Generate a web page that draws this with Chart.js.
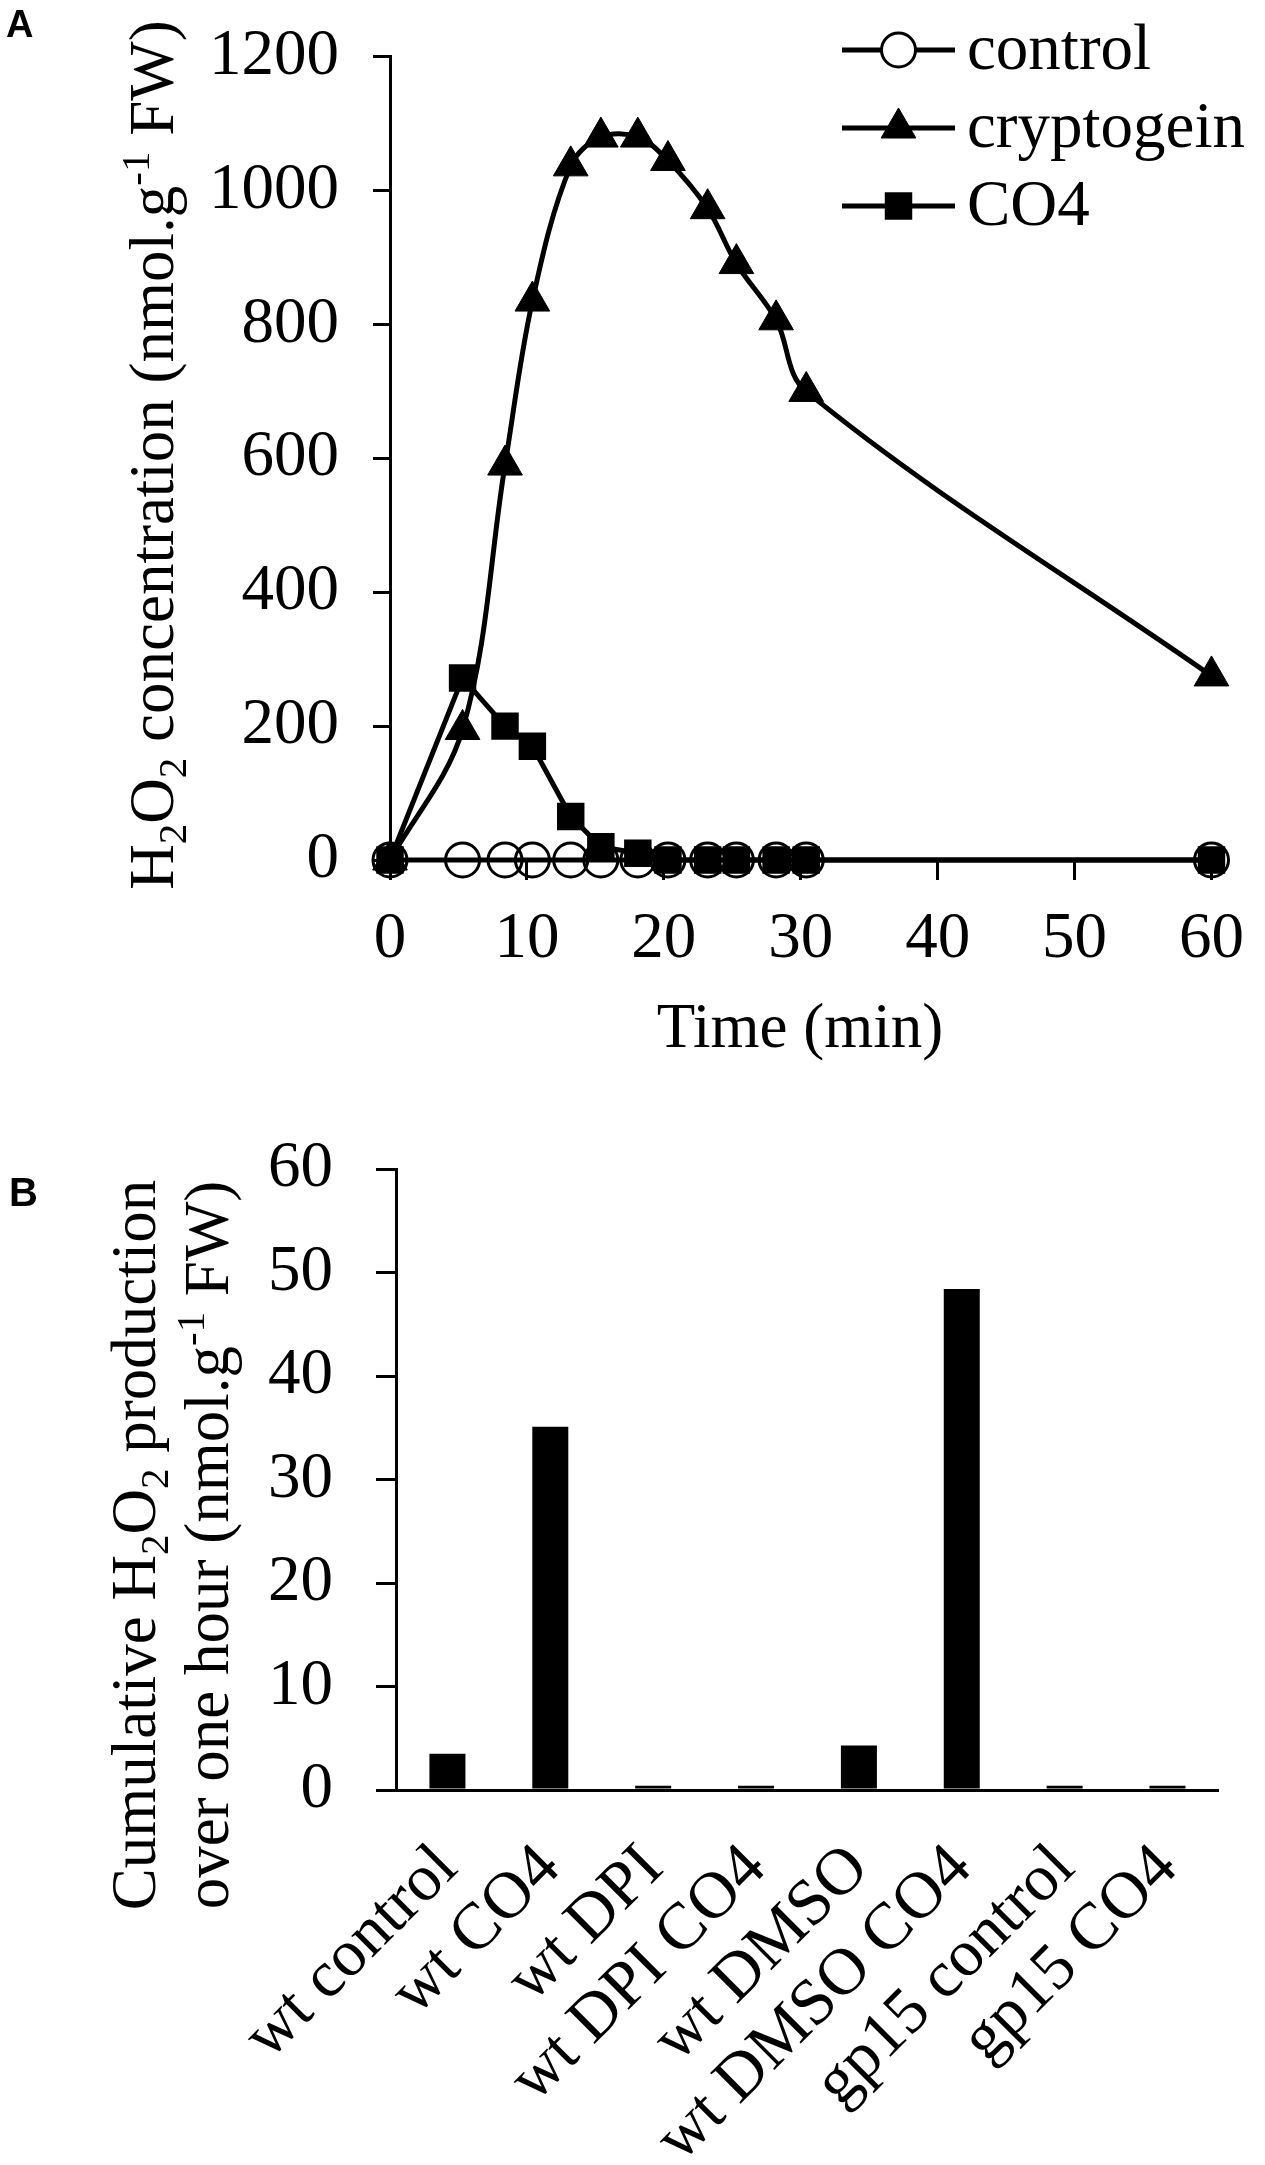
<!DOCTYPE html>
<html>
<head>
<meta charset="utf-8">
<title>H2O2 production</title>
<script src="https://cdn.jsdelivr.net/npm/chart.js@4.4.1/dist/chart.umd.min.js"></script>
<style>
  html, body { margin: 0; padding: 0; background: #fff; }
  #page { position: relative; width: 1265px; height: 2165px; overflow: hidden; }
  .panel { position: absolute; left: 0; width: 1265px; }
  #wrapA { top: 0; height: 1100px; }
  #wrapB { top: 1100px; height: 1065px; }
  .tag { position: absolute; font: bold 38px "Liberation Sans", Arial, sans-serif; line-height: 1; color: #000; }
</style>
</head>
<body>
<div id="page">
  <div class="panel" id="wrapA"><canvas id="chartA" width="1265" height="1100"></canvas></div>
  <div class="panel" id="wrapB"><canvas id="chartB" width="1265" height="1065"></canvas></div>
  <div class="tag" style="left:6px; top:5px;">A</div>
  <div class="tag" style="left:9px; top:1172px; font-size:40px;">B</div>
</div>
<script>
// panel A: time course
const times = [0, 5.3, 8.4, 10.4, 13.2, 15.4, 18.1, 20.3, 23.2, 25.3, 28.2, 30.4, 60];
const controlValues = [0, 0, 0, 0, 0, 0, 0, 0, 0, 0, 0, 0, 0];
const cryptogeinValues = [0, 195, 590, 835, 1037, 1080, 1080, 1045, 973, 891, 807, 700, 275];
const co4Values = [0, 272, 200, 170, 65, 20, 10, 0, 0, 0, 0, 0, 0];
const timeTicks = [0, 10, 20, 30, 40, 50, 60];
const concTicks = [0, 200, 400, 600, 800, 1000, 1200];

// panel B: cumulative production
const categories = ['wt control', 'wt CO4', 'wt DPI', 'wt DPI CO4', 'wt DMSO', 'wt DMSO CO4', 'gp15 control', 'gp15 CO4'];
const cumulativeValues = [3.5, 35.1, 0.4, 0.4, 4.3, 48.4, 0.4, 0.4];
const cumulativeTicks = [0, 10, 20, 30, 40, 50, 60];

const SERIF = '"Liberation Serif", "Times New Roman", serif';
const TITLE_SIZE = 63;
const TICK_SIZE = 65;

const toPoints = values => times.map((t, i) => ({ x: t, y: values[i] }));
const fixedTicks = list => scale => { scale.ticks = list.map(v => ({ value: v })); };
const plainNumber = v => String(v);

// draws text with sub/superscripts, centred on (cx, cy), baseline through cy
function drawRich(ctx, parts, cx, cy, size, angle) {
    ctx.save();
    ctx.translate(cx, cy);
    ctx.rotate(angle);
    ctx.fillStyle = '#000';
    ctx.textAlign = 'left';
    ctx.textBaseline = 'alphabetic';
    const fontFor = p => (p.s ? size * 0.65 : size) + 'px ' + SERIF;
    let total = 0;
    parts.forEach(p => { ctx.font = fontFor(p); total += ctx.measureText(p.t).width; });
    let x = -total / 2;
    parts.forEach(p => {
        ctx.font = fontFor(p);
        const dy = p.s === 1 ? size * 0.2 : (p.s === -1 ? -size * 0.38 : 0);
        ctx.fillText(p.t, x, dy);
        x += ctx.measureText(p.t).width;
    });
    ctx.restore();
}

const titlesPlugin = {
    id: 'richTitles',
    afterDraw(chart, args, opts) {
        (opts.items || []).forEach(it => {
            drawRich(chart.ctx, it.parts, it.x, it.y, TITLE_SIZE, it.vertical ? -Math.PI / 2 : 0);
        });
    }
};

// legend drawn as line + marker, like the original
const lineLegendPlugin = {
    id: 'lineLegend',
    afterDraw(chart, args, opts) {
        if (!opts.rows) return;
        const ctx = chart.ctx;
        opts.rows.forEach((row, k) => {
            const ds = chart.data.datasets[row.dataset];
            const y = opts.y0 + k * opts.step;
            ctx.save();
            ctx.strokeStyle = ds.borderColor;
            ctx.lineWidth = ds.borderWidth;
            ctx.beginPath();
            ctx.moveTo(opts.x0, y);
            ctx.lineTo(opts.x1, y);
            ctx.stroke();
            ctx.fillStyle = row.fill || ds.pointBackgroundColor;
            ctx.strokeStyle = ds.pointBorderColor;
            ctx.lineWidth = ds.pointBorderWidth;
            Chart.helpers.drawPoint(ctx, {
                pointStyle: ds.pointStyle, radius: ds.pointRadius, rotation: 0, borderWidth: ds.pointBorderWidth
            }, (opts.x0 + opts.x1) / 2, y);
            ctx.fillStyle = '#000';
            ctx.font = TICK_SIZE + 'px ' + SERIF;
            ctx.textAlign = 'left';
            ctx.textBaseline = 'middle';
            ctx.fillText(ds.label, opts.x1 + 12, y + 2);
            ctx.restore();
        });
    }
};

const axisLine = { color: '#000', width: 3 };
const tickFont = { family: SERIF, size: TICK_SIZE };
const yTickFont = { family: SERIF, size: TICK_SIZE, lineHeight: 0.7 };

new Chart(document.getElementById('chartA'), {
    type: 'line',
    data: {
        datasets: [
            {
                label: 'cryptogein',
                data: toPoints(cryptogeinValues),
                borderColor: '#000', borderWidth: 5, tension: 0.35,
                pointStyle: 'triangle', pointRadius: 20,
                pointBackgroundColor: '#000', pointBorderColor: '#000', pointBorderWidth: 1,
                clip: false
            },
            {
                label: 'CO4',
                data: toPoints(co4Values),
                borderColor: '#000', borderWidth: 5, tension: 0,
                pointStyle: 'rect', pointRadius: 18,
                pointBackgroundColor: '#000', pointBorderColor: '#000', pointBorderWidth: 2,
                clip: false
            },
            {
                label: 'control',
                data: toPoints(controlValues),
                borderColor: '#000', borderWidth: 5, tension: 0,
                pointStyle: 'circle', pointRadius: 17,
                pointBackgroundColor: 'rgba(0,0,0,0)', pointBorderColor: '#000', pointBorderWidth: 3,
                clip: false
            }
        ]
    },
    options: {
        responsive: false,
        animation: false,
        devicePixelRatio: 1,
        layout: { padding: { top: 25, right: 41, left: 0, bottom: 0 } },
        plugins: {
            legend: { display: false },
            tooltip: { enabled: false },
            richTitles: {
                items: [
                    { vertical: true, x: 173, y: 455, parts: [
                        { t: 'H' }, { t: '2', s: 1 }, { t: 'O' }, { t: '2', s: 1 },
                        { t: ' concentration (nmol.g' }, { t: '-1', s: -1 }, { t: ' FW)' }
                    ] },
                    { x: 800, y: 1047, parts: [{ t: 'Time (min)' }] }
                ]
            },
            lineLegend: {
                x0: 842, x1: 955, y0: 50, step: 78,
                rows: [{ dataset: 2, fill: '#fff' }, { dataset: 0 }, { dataset: 1 }]
            }
        },
        scales: {
            x: {
                type: 'linear', min: 0, max: 60,
                afterBuildTicks: fixedTicks(timeTicks),
                afterFit: s => { s.height = 240; },
                grid: { drawOnChartArea: false, tickLength: 20, color: '#000', lineWidth: 3 },
                border: axisLine,
                ticks: { color: '#000', font: tickFont, padding: 21, maxRotation: 0, callback: plainNumber }
            },
            y: {
                min: 0, max: 1200,
                afterBuildTicks: fixedTicks(concTicks),
                afterFit: s => { s.width = 390; },
                grid: { drawOnChartArea: false, tickLength: 17, color: '#000', lineWidth: 3 },
                border: axisLine,
                ticks: { color: '#000', font: yTickFont, padding: 34, callback: plainNumber }
            }
        }
    },
    plugins: [titlesPlugin, lineLegendPlugin]
});

new Chart(document.getElementById('chartB'), {
    type: 'bar',
    data: {
        labels: categories,
        datasets: [{
            data: cumulativeValues,
            backgroundColor: '#000',
            barPercentage: 0.35,
            categoryPercentage: 1
        }]
    },
    options: {
        responsive: false,
        animation: false,
        devicePixelRatio: 1,
        layout: { padding: { top: 69, right: 24, left: 0, bottom: 0 } },
        plugins: {
            legend: { display: false },
            tooltip: { enabled: false },
            richTitles: {
                items: [
                    { vertical: true, x: 155, y: 445, parts: [
                        { t: 'Cumulative H' }, { t: '2', s: 1 }, { t: 'O' }, { t: '2', s: 1 }, { t: ' production' }
                    ] },
                    { vertical: true, x: 228, y: 445, parts: [
                        { t: 'over one hour (nmol.g' }, { t: '-1', s: -1 }, { t: ' FW)' }
                    ] }
                ]
            }
        },
        scales: {
            x: {
                afterFit: s => { s.height = 375; },
                grid: { drawOnChartArea: false, drawTicks: false },
                border: axisLine,
                ticks: { color: '#000', font: { family: SERIF, size: 66 }, minRotation: 45, maxRotation: 45, padding: 40, autoSkip: false }
            },
            y: {
                min: 0, max: 60,
                afterBuildTicks: fixedTicks(cumulativeTicks),
                afterFit: s => { s.width = 396; },
                grid: { drawOnChartArea: false, tickLength: 20, color: '#000', lineWidth: 3 },
                border: axisLine,
                ticks: { color: '#000', font: yTickFont, padding: 43, callback: plainNumber }
            }
        }
    },
    plugins: [titlesPlugin]
});
</script>
</body>
</html>
